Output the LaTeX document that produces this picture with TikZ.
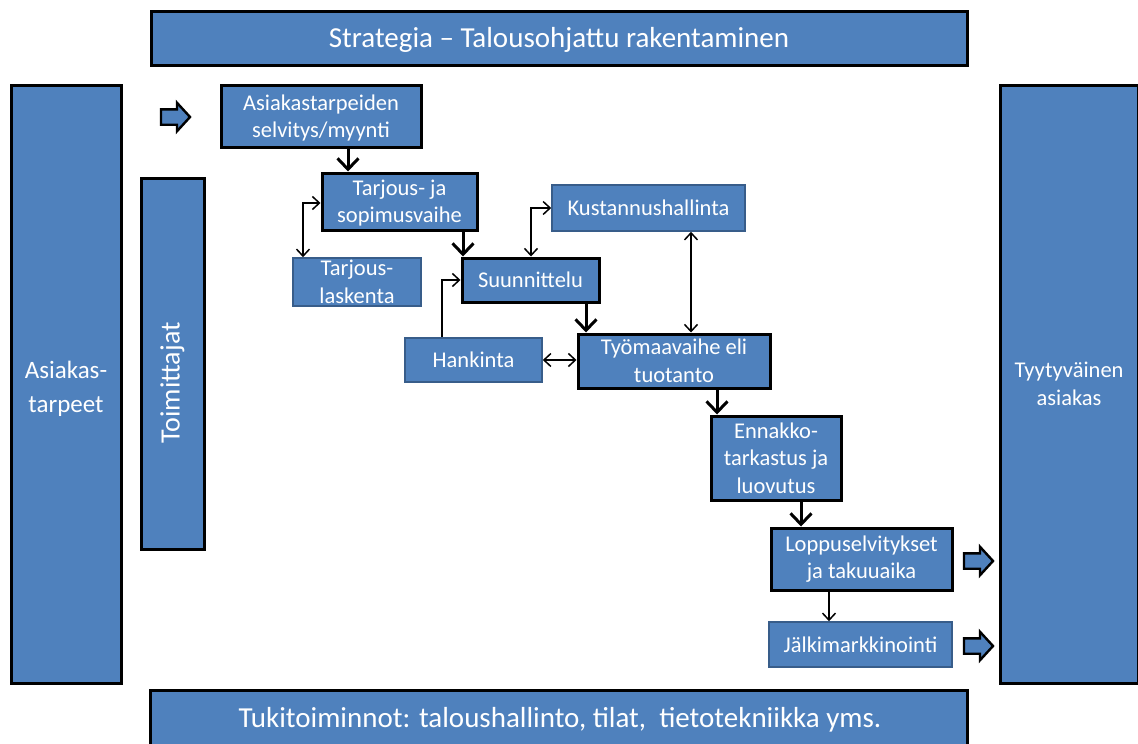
\documentclass[tikz,border=0pt]{standalone}
\usepackage{fontspec}
\setmainfont{Carlito}
\usetikzlibrary{arrows.meta,shapes.arrows}

\definecolor{boxblue}{HTML}{4F81BD}
\definecolor{boxedge}{HTML}{385D8A}

\tikzset{
  card/.style={fill=boxblue, text=white, align=center, inner sep=2pt,
    font=\fontsize{22.5}{27.5}\selectfont},
  heavy/.style={card, draw=black, line width=3pt},
  light/.style={card, draw=boxedge, line width=1.6pt},
  caption/.style={text=white, align=center, inner sep=0pt},
  flow/.style={line width=3pt, -{Straight Barb[length=11pt,width=21pt]}},
  link/.style={line width=1.5pt,
    {Straight Barb[length=7pt,width=13pt]}-{Straight Barb[length=7pt,width=13pt]}},
  feed/.style={line width=1.5pt, -{Straight Barb[length=7pt,width=13pt]}},
  blockarrow/.style={single arrow, draw=black, line width=2.4pt, fill=boxblue,
    inner xsep=0pt, inner ysep=6.5pt, minimum height=29pt,
    single arrow head extend=6.5pt, single arrow tip angle=95},
}

% rectangle node given by its corners (x1,y1)-(x2,y2)
\newcommand\rectnode[7]{%
  \node[#1, minimum width={(#5)-(#3)-2}, minimum height={(#6)-(#4)-2}]
    (#2) at ({(#3+#5)/2},{(#4+#6)/2}) {#7};}

\begin{document}
\begin{tikzpicture}[x=1pt, y=-1pt]
\useasboundingbox (0,0) rectangle (1138,744);

% frame boxes
\rectnode{heavy}{strat}{150}{10}{968}{66}{}
\node[caption, font=\fontsize{29}{34}\selectfont] (stratlabel) at (559,40) {Strategia -- Talousohjattu rakentaminen};
\rectnode{heavy}{needs}{10}{84}{122}{684}{}
\node[caption, font=\fontsize{25}{34}\selectfont] (needslabel) at (66,389) {Asiakas-\\tarpeet};
\rectnode{heavy}{supp}{140}{177}{205}{550}{}
\node[caption, rotate=90, font=\fontsize{28}{34}\selectfont] (supplabel) at (172.5,383) {Toimittajat};
\rectnode{heavy}{happy}{999}{84}{1139}{684}{Tyytyväinen\\asiakas}
\rectnode{heavy}{tuki}{149}{689}{968}{752}{}
\node[caption, font=\fontsize{29}{34}\selectfont] (tukilabel) at (560,720) {Tukitoiminnot: taloushallinto, tilat, \ tietotekniikka yms.};

% process boxes
\rectnode{heavy, text depth=0pt}{sales}{220}{84}{422}{148}{Asiakastarpeiden\\selvitys/myynti}
\rectnode{heavy, text depth=0pt}{offer}{321}{172}{478}{231}{Tarjous- ja\\sopimusvaihe}
\rectnode{light}{calc}{292}{257}{422}{307}{Tarjous-\\laskenta}
\rectnode{light}{cost}{551}{184}{746}{232}{Kustannushallinta}
\rectnode{heavy}{design}{461}{257}{600}{303}{Suunnittelu}
\rectnode{light}{proc}{404}{337}{543}{383}{Hankinta}
\rectnode{heavy}{site}{577}{333}{771}{389}{Työmaavaihe eli\\tuotanto}
\rectnode{heavy}{insp}{710}{415}{842}{501}{Ennakko-\\tarkastus ja\\luovutus}
\rectnode{heavy}{final}{770}{527}{953}{591}{Loppuselvitykset\\ja takuuaika}
\rectnode{light}{after}{768}{621}{953}{668}{Jälkimarkkinointi}

% main flow
\draw[flow] (348,0 |- sales.south) -- (348,0 |- offer.north);
\draw[flow] (463,0 |- offer.south) -- (463,0 |- design.north);
\draw[flow] (586,0 |- design.south) -- (586,0 |- site.north);
\draw[flow] (717,0 |- site.south) -- (717,0 |- insp.north);
\draw[flow] (801,0 |- insp.south) -- (801,0 |- final.north);
\draw[feed] (829,0 |- final.south) -- (829,0 |- after.north);

% side links
\draw[link] (offer.west |- 0,203) -| (303,0 |- calc.north);
\draw[link] (531,0 |- design.north) |- (cost.west);
\draw[feed] (442,0 |- proc.north) |- (design.west);
\draw[link] (proc.east) -- (site.west |- proc.east);
\draw[link] (691,0 |- cost.south) -- (691,0 |- site.north);

% block arrows
\node[blockarrow] (inarrow) at (172,117) {};
\node[blockarrow] (outarrow1) at (975,561) {};
\node[blockarrow] (outarrow2) at (975,646) {};
\end{tikzpicture}
\end{document}
